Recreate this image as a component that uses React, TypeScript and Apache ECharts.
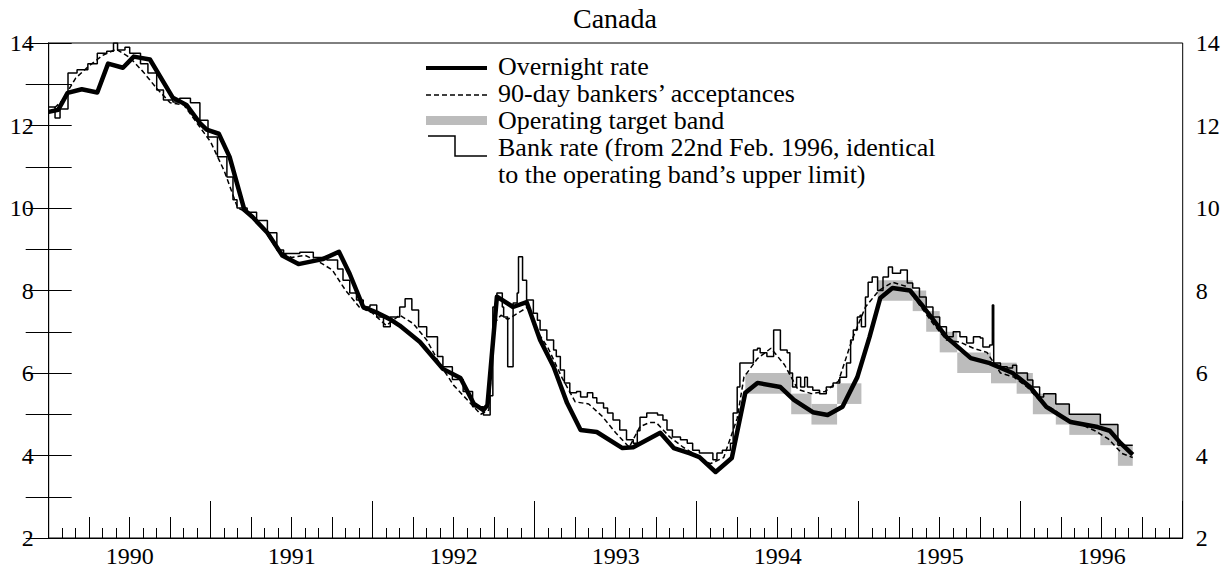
import React, { useEffect, useRef } from 'react';
import * as echarts from 'echarts';

// x = months since January 1990
const yearLabels = ['1990', '1991', '1992', '1993', '1994', '1995', '1996'];

const overnightRate: [number, number][] = [
  [0, 12.33], [0.7, 12.38], [1.4, 12.79], [2.45, 12.88], [3.6, 12.8], [4.4, 13.5], [5.5, 13.4],
  [6.3, 13.67], [7.5, 13.6], [9.2, 12.67], [10.2, 12.5], [11.2, 12.06], [11.7, 11.9], [12.6, 11.8],
  [13.4, 11.24], [14.5, 9.95], [15.1, 9.78], [16.2, 9.4], [17.3, 8.85], [18.5, 8.64], [20.3, 8.76],
  [21.5, 8.94], [22.3, 8.4], [23.3, 7.6], [24.4, 7.45], [25.3, 7.3], [26, 7.15], [27.5, 6.75],
  [29.2, 6.1], [30.5, 5.88], [31.5, 5.25], [32.2, 5.1], [32.5, 5.22], [33.2, 7.85], [34.4, 7.6],
  [35.4, 7.72], [36.4, 6.8], [37.4, 6.15], [38.4, 5.27], [39.4, 4.62], [40.6, 4.57], [42.5, 4.18],
  [43.3, 4.2], [45.3, 4.55], [46.3, 4.18], [47.5, 4.05], [48.2, 3.96], [49.4, 3.6], [50.6, 3.94],
  [51.6, 5.52], [52.5, 5.76], [54.2, 5.66], [55.2, 5.35], [56.6, 5.05], [57.7, 4.98], [58.8, 5.18],
  [59.9, 5.9], [60.8, 6.87], [61.6, 7.82], [62.5, 8.06], [63.8, 8.0], [64.8, 7.6], [66.5, 6.87],
  [68.3, 6.36], [69.7, 6.24], [71.4, 6.0], [72.7, 5.66], [73.9, 5.18], [75.7, 4.81], [77.7, 4.69],
  [78.6, 4.6], [79.4, 4.3], [80.3, 4.02],
];

const bankersAcceptances: [number, number][] = [
  [0, 12.3], [1, 12.6], [2, 13.15], [3, 13.45], [4, 13.7], [5, 13.85], [6, 13.65], [7, 13.3],
  [8, 12.9], [9, 12.55], [10, 12.5], [11, 12.05], [12, 11.6], [13, 10.9], [14, 10.0], [15, 9.85],
  [16, 9.45], [17, 8.95], [18, 8.8], [19, 8.85], [20, 8.7], [21, 8.5], [22, 8.0], [23, 7.6],
  [24, 7.45], [25, 7.15], [26, 7.4], [27, 7.2], [28, 6.8], [29, 6.2], [30, 5.7], [31, 5.35],
  [32, 5.0], [32.6, 5.1], [33, 7.2], [33.5, 7.4], [34, 7.3], [35, 7.5], [35.5, 7.6], [36, 7.1],
  [37, 6.6], [38, 5.9], [39, 5.3], [40, 5.25], [41, 4.95], [42, 4.55], [43, 4.2], [43.8, 4.7],
  [44.5, 4.8], [45, 4.8], [46, 4.45], [47, 4.2], [48, 4.0], [49, 3.8], [50, 3.95], [51, 4.9],
  [51.5, 5.9], [52.5, 6.35], [53.5, 6.6], [54.5, 6.2], [55.5, 5.6], [56.5, 5.5], [57.5, 5.55],
  [58.5, 5.8], [59.5, 6.8], [60.5, 7.6], [61.5, 8.0], [62.5, 8.2], [63.5, 8.1], [64.5, 7.65],
  [65.5, 7.2], [66.5, 6.8], [67.5, 6.75], [68.5, 6.6], [69.5, 6.5], [70.5, 6.0], [71.5, 5.9],
  [72.5, 5.65], [73.5, 5.3], [74.5, 5.1], [75.5, 4.85], [76.5, 4.75], [77.5, 4.6], [78.5, 4.4],
  [79.5, 4.05], [80.3, 3.95],
];

const bankRate: [number, number][] = [
  [0, 12.45], [0.47, 12.18], [0.84, 12.4], [1.43, 13.27], [2.1, 13.35], [2.9, 13.5], [3.6, 13.75],
  [4.3, 13.8], [4.8, 14.0], [5.1, 13.83], [5.65, 13.9], [6.0, 13.75], [6.8, 13.5], [7.35, 13.27],
  [8.0, 12.86], [8.5, 12.62], [9.2, 12.57], [9.7, 12.66], [10.5, 12.55], [11.2, 12.13],
  [11.8, 11.72], [12.5, 11.24], [13.2, 10.75], [13.65, 10.2], [13.95, 10.0], [14.7, 9.9],
  [15.4, 9.7], [16.2, 9.4], [16.9, 8.98], [17.4, 8.9], [18.6, 8.93], [19.6, 8.8], [20.6, 8.74],
  [21.4, 8.52], [21.8, 8.25], [22.3, 7.94], [22.8, 7.77], [23.3, 7.6], [23.8, 7.65], [24.3, 7.36],
  [24.8, 7.12], [25.3, 7.36], [26.0, 7.6], [26.4, 7.8], [26.9, 7.53], [27.4, 7.12], [28.0, 6.88],
  [28.8, 6.4], [29.2, 6.15], [29.9, 5.84], [30.7, 5.55], [31.4, 5.18], [32.2, 4.98], [32.7, 5.45],
  [32.9, 7.6], [33.2, 7.94], [33.6, 7.6], [33.7, 7.36], [34.0, 6.15], [34.4, 7.7], [34.7, 7.94],
  [34.8, 8.82], [35.1, 8.25], [35.4, 7.77], [35.9, 7.45], [36.2, 7.28], [36.4, 7.04], [36.9, 6.8],
  [37.4, 6.56], [37.6, 6.4], [37.9, 6.07], [38.2, 5.76], [38.6, 5.52], [39.1, 5.55], [39.4, 5.42],
  [39.9, 5.52], [40.3, 5.4], [40.6, 5.27], [41.1, 5.15], [41.4, 5.03], [41.8, 4.86], [42.3, 4.62],
  [42.8, 4.38], [43.3, 4.3], [43.6, 4.6], [43.8, 4.93], [44.3, 5.03], [45.1, 4.98], [45.5, 4.86],
  [45.8, 4.62], [46.2, 4.45], [46.8, 4.38], [47.3, 4.3], [47.7, 4.13], [48.2, 4.06], [49.2, 3.9],
  [49.5, 4.06], [49.9, 4.13], [50.5, 4.3], [50.7, 5.03], [51.0, 5.66], [51.2, 6.24], [51.7, 6.24],
  [52.2, 6.56], [52.5, 6.6], [52.7, 6.49], [53.2, 6.4], [53.7, 7.04], [54.2, 6.56], [54.7, 6.49],
  [54.9, 6.0], [55.1, 5.66], [55.4, 5.9], [55.7, 5.66], [56.0, 5.9], [56.2, 5.66], [56.6, 5.58],
  [57.1, 5.5], [57.6, 5.66], [58.1, 5.76], [58.6, 5.9], [59.1, 6.24], [59.4, 6.8], [59.6, 7.04],
  [59.9, 7.36], [60.1, 7.4], [60.2, 7.12], [60.5, 7.84], [60.7, 8.2], [61.0, 8.33], [61.4, 8.0],
  [61.8, 8.33], [62.2, 8.57], [62.5, 8.42], [63.1, 8.5], [63.6, 8.18], [64.0, 8.06], [64.5, 7.84],
  [65.0, 7.6], [65.5, 7.36], [66.0, 7.12], [66.5, 6.88], [67.0, 7.0], [67.5, 6.88], [68.0, 6.73],
  [68.5, 6.88], [69.0, 6.85], [69.2, 6.63], [69.7, 6.68], [69.9, 7.65], [70.0, 6.24], [70.5, 6.15],
  [71.0, 6.12], [71.4, 6.19], [71.7, 6.0], [72.5, 5.83], [72.9, 5.66], [73.4, 5.42], [73.7, 5.5],
  [74.6, 5.25], [75.6, 5.0], [77.9, 4.75], [79.2, 4.25], [80.3, 4.25],
];

// [start month, end month, lower limit, upper limit]
const targetBand: [number, number, number, number][] = [
  [51.6, 55.0, 5.5, 6.0], [55.0, 56.5, 5.0, 5.5], [56.5, 58.4, 4.75, 5.25], [58.4, 60.2, 5.25, 5.75],
  [61.4, 64.0, 7.75, 8.25], [64.0, 65.0, 7.5, 8.0], [65.0, 66.0, 7.0, 7.5], [66.0, 67.3, 6.5, 7.0],
  [67.3, 69.8, 6.0, 6.5], [69.8, 71.7, 5.75, 6.25], [71.7, 72.9, 5.5, 6.0], [72.9, 74.6, 5.0, 5.5],
  [74.6, 75.6, 4.75, 5.25], [75.6, 77.9, 4.5, 5.0], [77.9, 79.2, 4.25, 4.75], [79.2, 80.3, 3.75, 4.25],
];

const legendLines = [
  'Overnight rate',
  '90-day bankers\u2019 acceptances',
  'Operating target band',
  'Bank rate (from 22nd Feb. 1996, identical',
  'to the operating band\u2019s upper limit)',
];

const FONT = "'Liberation Serif', 'Times New Roman', serif";
const BAND_FILL = '#bcbcbc';

export default function App() {
  const ref = useRef<HTMLDivElement>(null);
  useEffect(() => {
    if (!ref.current) return;
    const chart = echarts.init(ref.current, null, { renderer: 'svg' });
    const gridLeft = 48.7;
    const gridRight = 1231 - 1182.7;
    const tickAxis = (interval: number, len: number, showLine: boolean) => ({
      type: 'value',
      min: 0,
      max: 84,
      interval,
      position: 'bottom',
      axisLine: { show: showLine, lineStyle: { color: '#000', width: 1 } },
      axisTick: { show: true, inside: true, length: len, lineStyle: { color: '#000', width: 1 } },
      axisLabel: { show: false },
      splitLine: { show: false },
    });
    const yAxisBase = (position: 'left' | 'right') => ({
      type: 'value',
      min: 2,
      max: 14,
      interval: 1,
      position,
      axisLine: { show: true, lineStyle: { color: '#000', width: 1 } },
      axisTick: { show: true, inside: true, length: 23, lineStyle: { color: '#000', width: 1 } },
      axisLabel: {
        show: true,
        margin: position === 'left' ? 15 : 13,
        color: '#000',
        fontFamily: FONT,
        fontSize: 24,
        formatter: (v: number) => (v % 2 === 0 ? String(v) : ''),
      },
      splitLine: { show: false },
    });
    const baselines = [75, 102, 129, 156, 183];
    const fs = 26;
    const sx0 = 426;
    const sx1 = 487;
    const textX = 498;
    const graphics: any[] = [
      {
        type: 'text',
        x: 615,
        y: 18,
        style: { text: 'Canada', font: `28px ${FONT}`, fill: '#000', align: 'center', verticalAlign: 'middle' },
      },
      ...legendLines.map((t, i) => ({
        type: 'text',
        x: textX,
        y: baselines[i] - 0.3375 * fs,
        style: {
          text: t,
          font: `${fs}px ${FONT}`,
          lineHeight: 25,
          fill: '#000',
          align: 'left',
          verticalAlign: 'middle',
        },
      })),
      {
        type: 'line',
        shape: { x1: sx0, y1: baselines[0] - 7, x2: sx1, y2: baselines[0] - 7 },
        style: { stroke: '#000', lineWidth: 4 },
      },
      {
        type: 'line',
        shape: { x1: sx0, y1: baselines[1] - 7, x2: sx1, y2: baselines[1] - 7 },
        style: { stroke: '#000', lineWidth: 1.5, lineDash: [5, 3] },
      },
      {
        type: 'rect',
        shape: { x: sx0, y: baselines[2] - 13, width: sx1 - sx0, height: 9 },
        style: { fill: BAND_FILL },
      },
      {
        type: 'polyline',
        shape: {
          points: [
            [sx0 + 2, baselines[3] - 20],
            [455, baselines[3] - 20],
            [455, baselines[3]],
            [sx1, baselines[3]],
          ],
        },
        style: { stroke: '#000', lineWidth: 1.5, fill: 'none' },
      },
    ];

    chart.setOption({
      animation: false,
      backgroundColor: '#fff',
      grid: {
        left: gridLeft,
        right: gridRight,
        top: 43,
        bottom: 31,
        show: true,
        borderColor: '#000',
        borderWidth: 1,
        containLabel: false,
      },
      xAxis: [
        tickAxis(1, 10, true),
        tickAxis(3, 21, false),
        tickAxis(12, 37, false),
        {
          type: 'category',
          data: yearLabels,
          boundaryGap: true,
          position: 'bottom',
          axisLine: { show: false },
          axisTick: { show: false },
          axisLabel: { show: true, color: '#000', fontFamily: FONT, fontSize: 24, margin: 6 },
          splitLine: { show: false },
        },
      ],
      yAxis: [yAxisBase('left'), yAxisBase('right')],
      graphic: graphics,
      series: [
        {
          type: 'custom',
          name: 'Operating target band',
          xAxisIndex: 0,
          yAxisIndex: 0,
          z: 1,
          encode: { x: [0, 1], y: [2, 3] },
          data: targetBand,
          renderItem: (params: any, api: any) => {
            const p0 = api.coord([api.value(0), api.value(3)]);
            const p1 = api.coord([api.value(1), api.value(2)]);
            return {
              type: 'rect',
              shape: { x: p0[0], y: p0[1], width: p1[0] - p0[0], height: p1[1] - p0[1] },
              style: { fill: BAND_FILL },
            };
          },
        },
        {
          type: 'line',
          name: 'Bank rate',
          xAxisIndex: 0,
          yAxisIndex: 0,
          z: 3,
          step: 'end',
          showSymbol: false,
          symbol: 'none',
          data: bankRate,
          lineStyle: { color: '#000', width: 1.5 },
        },
        {
          type: 'line',
          name: '90-day bankers acceptances',
          xAxisIndex: 0,
          yAxisIndex: 0,
          z: 4,
          showSymbol: false,
          symbol: 'none',
          data: bankersAcceptances,
          lineStyle: { color: '#000', width: 1.5, type: [5, 3] },
        },
        {
          type: 'line',
          name: 'Overnight rate',
          xAxisIndex: 0,
          yAxisIndex: 0,
          z: 5,
          showSymbol: false,
          symbol: 'none',
          data: overnightRate,
          lineStyle: { color: '#000', width: 4.5, join: 'round' },
        },
      ],
    });
    return () => chart.dispose();
  }, []);
  return (
    <div
      ref={ref}
      style={{ position: 'fixed', left: 0, top: 0, width: 1231, height: 569, background: '#fff' }}
    />
  );
}
